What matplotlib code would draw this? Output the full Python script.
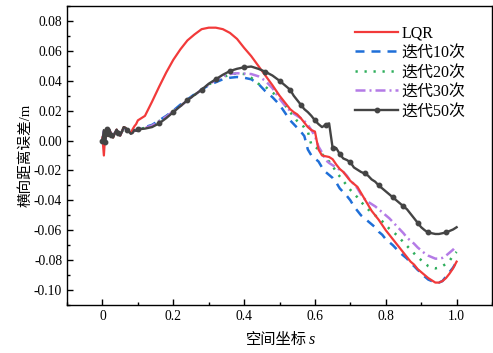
import matplotlib
matplotlib.use("Agg")
import matplotlib.pyplot as plt
from matplotlib.ticker import MultipleLocator, FuncFormatter

plt.rcParams['font.family'] = ['Liberation Serif', 'Noto Sans CJK SC']
plt.rcParams['axes.unicode_minus'] = False

# ---------------- data ----------------
s_early = [0.000, 0.004, 0.008, 0.012, 0.016, 0.020, 0.025, 0.030, 0.035, 0.040, 0.045,
           0.050, 0.055, 0.060, 0.065, 0.070, 0.075, 0.080, 0.085, 0.090, 0.095, 0.100]
s_mid = [0.12, 0.14, 0.16, 0.18, 0.20, 0.22, 0.24, 0.26, 0.28, 0.30,
         0.32, 0.34, 0.36, 0.38, 0.40, 0.42, 0.44, 0.46, 0.48, 0.50]
s_late = [0.51, 0.52, 0.53, 0.54, 0.55, 0.56, 0.57, 0.58, 0.59, 0.60,
          0.61, 0.62, 0.63, 0.64, 0.65, 0.66, 0.67, 0.68, 0.69, 0.70,
          0.71, 0.72, 0.73, 0.74, 0.75, 0.76, 0.77, 0.78, 0.79, 0.80,
          0.81, 0.82, 0.83, 0.84, 0.85, 0.86, 0.87, 0.88, 0.89, 0.90,
          0.91, 0.92, 0.93, 0.94, 0.95, 0.96, 0.97, 0.98, 0.99, 1.00]
s = s_early + s_mid + s_late

lqr = [0.002, -0.010, 0.005, 0.008, 0.003, 0.007, 0.004, 0.002, 0.005, 0.0073, 0.005,
       0.0033, 0.006, 0.009, 0.0085, 0.007, 0.006, 0.005, 0.0075, 0.0095, 0.011, 0.0135,
       0.0165, 0.026, 0.036, 0.0455, 0.054, 0.061, 0.067, 0.071, 0.0745, 0.0755,
       0.0755, 0.0745, 0.072, 0.068, 0.062, 0.0565, 0.050, 0.0435, 0.037, 0.030,
       0.027, 0.024, 0.021, 0.019, 0.0175, 0.015, 0.012, 0.009, 0.007, 0.006,
       -0.006, -0.010, -0.0105, -0.011, -0.0125, -0.016, -0.019, -0.021, -0.024, -0.027,
       -0.029, -0.031, -0.035, -0.039, -0.043, -0.047, -0.050, -0.053, -0.0565, -0.060,
       -0.063, -0.066, -0.069, -0.072, -0.075, -0.078, -0.081, -0.083, -0.086, -0.088,
       -0.090, -0.092, -0.0935, -0.095, -0.095, -0.094, -0.092, -0.089, -0.0855, -0.081]

iter10 = [0.000, 0.006, 0.000, 0.008, 0.004, 0.007, 0.004, 0.003, 0.005, 0.007, 0.005,
          0.004, 0.006, 0.0085, 0.008, 0.007, 0.006, 0.005, 0.0055, 0.007, 0.007, 0.008,
          0.009, 0.0105, 0.0135, 0.0165, 0.020, 0.024, 0.0275, 0.031, 0.034, 0.037,
          0.039, 0.041, 0.042, 0.0425, 0.042, 0.041, 0.038, 0.033, 0.029, 0.024,
          0.0205, 0.017, 0.0135, 0.011, 0.0085, 0.006, 0.003, -0.006, -0.010, -0.012,
          -0.014, -0.018, -0.021, -0.023, -0.025, -0.028, -0.032, -0.0345, -0.037, -0.040,
          -0.044, -0.047, -0.050, -0.052, -0.054, -0.056, -0.058, -0.061, -0.063, -0.066,
          -0.068, -0.070, -0.0725, -0.075, -0.077, -0.079, -0.082, -0.084, -0.0865, -0.0885,
          -0.091, -0.093, -0.094, -0.0945, -0.095, -0.094, -0.091, -0.088, -0.085, -0.081]

iter20 = [0.000, 0.006, 0.001, 0.008, 0.004, 0.007, 0.004, 0.0025, 0.005, 0.007, 0.005,
          0.0035, 0.006, 0.0085, 0.008, 0.007, 0.006, 0.005, 0.0055, 0.007, 0.0065, 0.0075,
          0.0085, 0.010, 0.013, 0.016, 0.0195, 0.023, 0.027, 0.0305, 0.034, 0.0375,
          0.040, 0.0425, 0.044, 0.045, 0.0445, 0.042, 0.038, 0.036, 0.032, 0.029,
          0.026, 0.022, 0.019, 0.016, 0.013, 0.0105, 0.009, 0.006, -0.003, -0.004,
          -0.006, -0.009, -0.012, -0.014, -0.017, -0.021, -0.024, -0.027, -0.030, -0.033,
          -0.0355, -0.038, -0.041, -0.0435, -0.046, -0.048, -0.050, -0.052, -0.054, -0.0565,
          -0.059, -0.061, -0.063, -0.0655, -0.068, -0.0705, -0.073, -0.0755, -0.078, -0.080,
          -0.082, -0.084, -0.085, -0.0855, -0.085, -0.084, -0.0825, -0.0805, -0.077, -0.0745]

iter30 = [0.000, 0.007, 0.000, 0.008, 0.004, 0.007, 0.004, 0.0025, 0.005, 0.007, 0.005,
          0.0035, 0.006, 0.0085, 0.008, 0.007, 0.006, 0.005, 0.0055, 0.007, 0.0065, 0.0075,
          0.0085, 0.010, 0.013, 0.016, 0.0195, 0.023, 0.027, 0.0305, 0.034, 0.0375,
          0.0405, 0.043, 0.0445, 0.045, 0.0448, 0.0445, 0.043, 0.040, 0.035, 0.028,
          0.025, 0.022, 0.020, 0.018, 0.0165, 0.015, 0.013, 0.0105, 0.007, 0.003,
          -0.004, -0.008, -0.013, -0.015, -0.0165, -0.018, -0.0195, -0.021, -0.0235, -0.027,
          -0.029, -0.032, -0.036, -0.039, -0.041, -0.0425, -0.044, -0.046, -0.048, -0.050,
          -0.052, -0.0545, -0.057, -0.0595, -0.062, -0.065, -0.067, -0.069, -0.0715, -0.0735,
          -0.0755, -0.077, -0.078, -0.079, -0.079, -0.0785, -0.077, -0.075, -0.073, -0.0705]

iter50 = [0.000, 0.007, -0.001, 0.008, 0.003, 0.007, 0.004, 0.002, 0.005, 0.0073, 0.005,
          0.0033, 0.006, 0.009, 0.0085, 0.007, 0.006, 0.0045, 0.005, 0.007, 0.0065, 0.0075,
          0.008, 0.009, 0.0115, 0.015, 0.019, 0.023, 0.027, 0.0305, 0.034, 0.038,
          0.041, 0.044, 0.0465, 0.048, 0.049, 0.0495, 0.048, 0.046, 0.0435, 0.040,
          0.038, 0.036, 0.034, 0.030, 0.027, 0.024, 0.021, 0.019, 0.0165, 0.0135,
          0.011, 0.009, 0.0105, 0.0115, -0.005, -0.005, -0.009, -0.012, -0.013, -0.0145,
          -0.018, -0.0195, -0.021, -0.022, -0.0235, -0.026, -0.0275, -0.030, -0.032, -0.034,
          -0.036, -0.038, -0.040, -0.042, -0.044, -0.046, -0.049, -0.052, -0.055, -0.058,
          -0.060, -0.0615, -0.062, -0.0625, -0.0625, -0.062, -0.0615, -0.0605, -0.0595, -0.058]

labels = ["LQR", "迭代10次", "迭代20次", "迭代30次", "迭代50次"]
x_ticks = [0, 0.2, 0.4, 0.6, 0.8, 1.0]
y_ticks = [-0.10, -0.08, -0.06, -0.04, -0.02, 0.00, 0.02, 0.04, 0.06, 0.08]

# ---------------- plot ----------------
fig = plt.figure(figsize=(4.93, 3.53), dpi=100)
ax = fig.add_axes([0.136, 0.136, 0.862, 0.847])

ax.plot(s, lqr, color='#F23A3A', lw=1.6, label=labels[0], zorder=3)
ax.plot(s, iter10, color='#1F6FD8', lw=1.8, dashes=(3.6, 2.8), label=labels[1], zorder=2)
ax.plot(s, iter20, color='#2EAE5C', lw=1.8, dashes=(0.9, 2.7), label=labels[2], zorder=2)
ax.plot(s, iter30, color='#B47BE6', lw=1.8, dashes=(4, 1.6, 0.8, 1.6), label=labels[3], zorder=2)
ax.plot(s, iter50, color='#444444', lw=1.7, marker='o', markersize=3.2,
        markevery=0.034, label=labels[4], zorder=4)

ax.set_xlim(-0.1, 1.1)
ax.set_ylim(-0.11, 0.09)
ax.set_xticks(x_ticks)
ax.set_yticks(y_ticks)
ax.xaxis.set_minor_locator(MultipleLocator(0.1))
ax.yaxis.set_minor_locator(MultipleLocator(0.01))
ax.xaxis.set_major_formatter(FuncFormatter(lambda v, p: "0" if abs(v) < 1e-9 else f"{v:.1f}"))
ax.yaxis.set_major_formatter(FuncFormatter(lambda v, p: f"{v:.2f}"))
ax.tick_params(which='both', direction='in', labelsize=9.8, width=1.0)
ax.tick_params(which='major', length=4)
ax.tick_params(which='minor', length=2.5)
for sp in ax.spines.values():
    sp.set_linewidth(1.0)

# x label: Chinese text plus italic s
fig.text(307 / 493, 1 - 340 / 353, "空间坐标", fontsize=11, ha='right', va='center')
fig.text(309 / 493, 1 - 340 / 353, "s", fontsize=11.5, style='italic',
         family='Liberation Serif', ha='left', va='center')
ax.set_ylabel("横向距离误差/m", fontsize=10.5, labelpad=1)

leg = ax.legend(loc='upper left', bbox_to_anchor=(0.678, 0.935), frameon=False,
                fontsize=11.5, handlelength=2.7, handletextpad=0.2, labelspacing=0.22,
                borderaxespad=0, borderpad=0)

fig.savefig("out.png", dpi=100)
